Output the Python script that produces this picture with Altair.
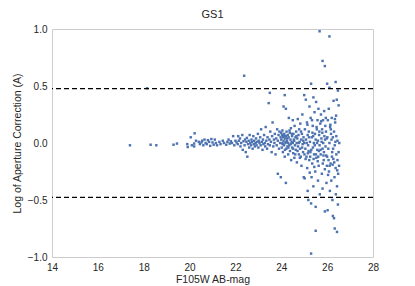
import altair as alt
import pandas as pd

# (magnitude, log aperture correction) pairs
mags = [
    17.4, 18.15, 18.3, 18.55, 19.3, 19.45, 19.9, 19.92, 20.05, 20.1,
    20.22, 20.2, 20.2, 20.28, 20.4, 20.45, 20.52, 20.55, 20.6, 20.65, 20.7, 20.75, 20.8, 20.85, 20.9, 20.95, 21.0, 21.05,
    21.1, 21.15, 21.2, 21.3, 21.35, 21.45, 21.5, 21.6, 21.65, 21.7, 21.75, 21.8, 21.85, 21.9, 21.95, 22.0,
    22.05, 22.1, 22.12, 22.15, 22.2, 22.22, 22.25, 22.3, 22.32, 22.35, 22.38, 22.4, 22.42, 22.45, 22.48,
    22.5, 22.52, 22.55, 22.58, 22.6, 22.62, 22.65, 22.68, 22.7, 22.72, 22.75, 22.78, 22.8, 22.82, 22.85, 22.88, 22.9, 22.92, 22.95, 22.98,
    23.0, 23.02, 23.05, 23.08, 23.1, 23.12, 23.15, 23.18, 23.2, 23.22, 23.25, 23.28, 23.3, 23.32, 23.35, 23.38, 23.4, 23.42, 23.45, 23.48,
    23.5, 23.5, 23.52, 23.55, 23.58, 23.6, 23.62, 23.65, 23.68, 23.7, 23.72, 23.75, 23.78, 23.8, 23.82, 23.85, 23.85, 23.88, 23.9, 23.92, 23.95, 23.97, 23.98, 24.0,
    24.0, 24.02, 24.03, 24.05, 24.05, 24.07, 24.08, 24.1, 24.1, 24.12, 24.13, 24.15, 24.15, 24.17, 24.18, 24.2, 24.2, 24.2, 24.22, 24.23, 24.25, 24.27, 24.28, 24.3, 24.3, 24.32, 24.33, 24.35, 24.37, 24.38, 24.4, 24.42, 24.43, 24.45, 24.47, 24.48, 24.5,
    24.5, 24.52, 24.53, 24.55, 24.57, 24.58, 24.6, 24.62, 24.63, 24.65, 24.67, 24.68, 24.7, 24.72, 24.73, 24.75, 24.77, 24.78, 24.8, 24.82, 24.83, 24.85, 24.87, 24.88, 24.9, 24.92, 24.93, 24.95, 24.97, 24.98, 25.0, 25.0,
    25.02, 25.03, 25.05, 25.07, 25.08, 25.1, 25.12, 25.13, 25.15, 25.15, 25.17, 25.18, 25.2, 25.22, 25.23, 25.25, 25.27, 25.28, 25.3, 25.3, 25.3, 25.32, 25.33, 25.35, 25.37, 25.38, 25.4, 25.4, 25.42, 25.43, 25.45, 25.47, 25.48, 25.5, 25.5, 25.5,
    25.52, 25.53, 25.55, 25.57, 25.58, 25.6, 25.6, 25.62, 25.63, 25.65, 25.67, 25.67, 25.68, 25.7, 25.72, 25.73, 25.75, 25.77, 25.78, 25.8, 25.8, 25.8, 25.82, 25.83, 25.85, 25.87, 25.88, 25.9, 25.9, 25.9, 25.92, 25.93, 25.95, 25.97, 25.98,
    26.0, 26.0, 26.02, 26.03, 26.05, 26.07, 26.08, 26.1, 26.1, 26.1, 26.12, 26.13, 26.15, 26.17, 26.18, 26.2, 26.22, 26.23, 26.25, 26.25, 26.27, 26.28, 26.3, 26.3, 26.32, 26.33, 26.33, 26.35, 26.37, 26.37, 26.38, 26.4, 26.4, 26.42, 26.43, 26.43, 26.45, 26.45, 26.47, 26.47, 26.48, 26.5, 26.5, 26.52, 26.53,
    24.06, 24.11, 24.16, 24.21, 24.26, 24.31, 24.36, 24.41, 24.46, 24.51, 24.56, 24.61, 24.66, 24.71, 24.76, 24.81, 24.86, 24.91, 24.96,
    25.01, 25.06, 25.11, 25.16, 25.21, 25.26, 25.31, 25.36, 25.41, 25.46, 25.51, 25.56, 25.61, 25.66, 25.71, 25.76, 25.81, 25.86, 25.91, 25.96,
    26.01, 26.06, 26.11, 26.16, 26.21, 26.26, 26.31, 26.36,
    25.14, 25.24, 25.34, 25.44, 25.54, 25.64, 25.74, 25.84, 25.94, 26.04, 26.14, 26.24, 26.34, 26.44,
    25.19, 25.39, 25.59, 25.79, 25.99, 26.19, 26.39,
]
log_corr = [
    -0.02, 0.48, -0.015, -0.02, -0.015, -0.005, -0.01, -0.035, 0.05, -0.02,
    0.085, -0.005, -0.03, 0.02, 0.01, -0.01, 0.005, 0.02, -0.02, 0.03, 0.0, -0.01, 0.025, 0.01, -0.025, 0.035, 0.005, -0.015,
    0.03, 0.0, -0.02, 0.01, -0.01, 0.02, 0.0, -0.015, 0.01, 0.03, -0.005, 0.015, 0.0, 0.06, -0.02, 0.02,
    0.005, -0.01, 0.06, 0.02, 0.04, -0.03, 0.0, 0.07, -0.06, 0.015, 0.59, -0.02, 0.03, -0.08, 0.01,
    0.045, -0.12, -0.01, 0.02, -0.04, 0.07, 0.0, -0.02, 0.03, 0.01, -0.05, 0.06, -0.01, 0.02, -0.03, 0.0, 0.04, -0.02, 0.01, 0.08,
    -0.04, 0.02, 0.0, 0.05, -0.02, 0.12, 0.01, -0.06, 0.03, -0.01, 0.07, 0.0, -0.03, 0.14, 0.02, -0.05, 0.05, -0.01, 0.35, 0.03,
    0.44, -0.02, 0.1, 0.01, -0.08, 0.06, 0.18, -0.03, 0.03, 0.0, 0.08, -0.1, 0.04, -0.02, 0.12, -0.27, 0.02, 0.07, -0.05, 0.1, 0.0, 0.05, -0.3, 0.09,
    0.03, -0.04, 0.07, 0.0, 0.11, -0.08, 0.05, 0.32, 0.02, -0.02, 0.08, 0.42, -0.12, 0.04, 0.0, 0.3, -0.35, 0.06, -0.05, 0.1, 0.02, -0.03, 0.07, 0.0, -0.1, 0.05, 0.22, -0.02, 0.09, -0.07, 0.03, 0.13, -0.15, 0.01, 0.06, -0.04, 0.2,
    0.0, -0.09, 0.08, 0.03, -0.13, 0.15, -0.02, 0.05, -0.06, 0.1, 0.0, -0.17, 0.04, 0.21, -0.03, 0.07, -0.1, 0.12, 0.01, -0.05, 0.17, -0.12, 0.03, -0.2, 0.08, 0.25, -0.01, -0.08, 0.05, -0.3, 0.42, 0.0,
    -0.31, 0.12, -0.05, 0.38, 0.03, -0.12, 0.18, -0.22, 0.07, -0.42, -0.02, -0.5, 0.1, -0.15, 0.32, 0.01, -0.08, 0.22, -0.53, -0.97, 0.52, -0.3, 0.05, -0.18, 0.15, -0.04, 0.4, -0.38, 0.0, -0.1, 0.27, 0.08, -0.25, -0.77, -0.56, 0.03,
    0.36, -0.13, 0.12, -0.06, 0.2, -0.33, 0.02, 0.3, -0.2, 0.07, 0.98, -0.02, -0.45, 0.17, -0.1, 0.25, 0.04, -0.27, 0.12, 0.72, -0.4, -0.05, 0.2, 0.0, -0.15, 0.28, 0.06, 0.675, -0.6, -0.23, 0.15, -0.03, 0.1, -0.35, 0.04,
    0.52, -0.12, -0.59, 0.2, -0.05, 0.3, -0.25, 0.935, 0.485, 0.0, -0.42, 0.14, -0.18, 0.08, -0.33, 0.22, -0.08, -0.5, -0.64, 0.05, -0.14, 0.37, -0.66, 0.1, -0.3, -0.75, -0.02, 0.18, 0.535, -0.22, -0.45, 0.06, -0.1, 0.38, -0.78, -0.38, -0.15, 0.02, 0.46, -0.54, -0.27, 0.33, -0.08, -0.2, 0.0,
    -0.01, 0.06, -0.06, 0.01, 0.04, -0.04, 0.11, -0.01, 0.08, -0.05, 0.02, -0.1, 0.06, -0.07, 0.0, -0.13, 0.1, -0.04, 0.02,
    -0.1, -0.14, 0.0, -0.09, 0.05, -0.12, -0.06, 0.09, -0.14, -0.02, -0.1, 0.0, -0.12, 0.1, -0.06, 0.01, -0.18, -0.08, 0.03, -0.11,
    0.05, -0.15, -0.2, 0.12, -0.12, -0.05, -0.17, 0.01,
    0.16, -0.26, 0.2, -0.21, 0.14, -0.07, 0.19, -0.11, 0.22, -0.28, 0.16, -0.19, 0.21, -0.24,
    -0.07, 0.06, -0.16, 0.09, -0.2, 0.03, 0.24,
]
cut_levels = [0.477, -0.477]
x_ticks = [14, 16, 18, 20, 22, 24, 26, 28]
y_ticks = [-1.0, -0.5, 0.0, 0.5, 1.0]

df = pd.DataFrame({"mag": mags, "A": log_corr})
cuts = pd.DataFrame({"y": cut_levels})

FONT = "Liberation Sans"
TXT = "#262626"

x_enc = alt.X("mag:Q", scale=alt.Scale(domain=[14, 28], nice=False, zero=False),
              axis=alt.Axis(values=x_ticks, title="F105W AB-mag", grid=False, ticks=False,
                            domain=False, labelFlush=False, labelPadding=5, titlePadding=2))
y_enc = alt.Y("A:Q", scale=alt.Scale(domain=[-1, 1], nice=False, zero=False),
              axis=alt.Axis(values=y_ticks, format=".1f", title="Log of Aperture Correction (A)",
                            grid=False, ticks=False, domain=False, labelFlush=False,
                            labelPadding=5, titleX=-30, titleY=114))

points = alt.Chart(df).mark_square(size=6, color="#4c72b0", opacity=1).encode(x=x_enc, y=y_enc)

rules = alt.Chart(cuts).mark_rule(color="#000000", strokeWidth=1.3, strokeDash=[5, 3]).encode(
    y=alt.Y("y:Q")
)

chart = alt.layer(points, rules).properties(
    width=321, height=228,
    title=alt.TitleParams("GS1", fontSize=11, font=FONT, color=TXT, fontWeight="normal", offset=4),
    autosize=alt.AutoSizeParams(type="none"),
    padding={"left": 44, "top": 21, "right": 30, "bottom": 30},
).configure_view(stroke="#cccccc", strokeWidth=1).configure_axis(
    labelFont=FONT, titleFont=FONT, labelColor=TXT, titleColor=TXT,
    labelFontSize=10, titleFontSize=10.5, titleFontWeight="normal"
)

chart.save("out.html", embed_options={"renderer": "svg", "actions": False})
